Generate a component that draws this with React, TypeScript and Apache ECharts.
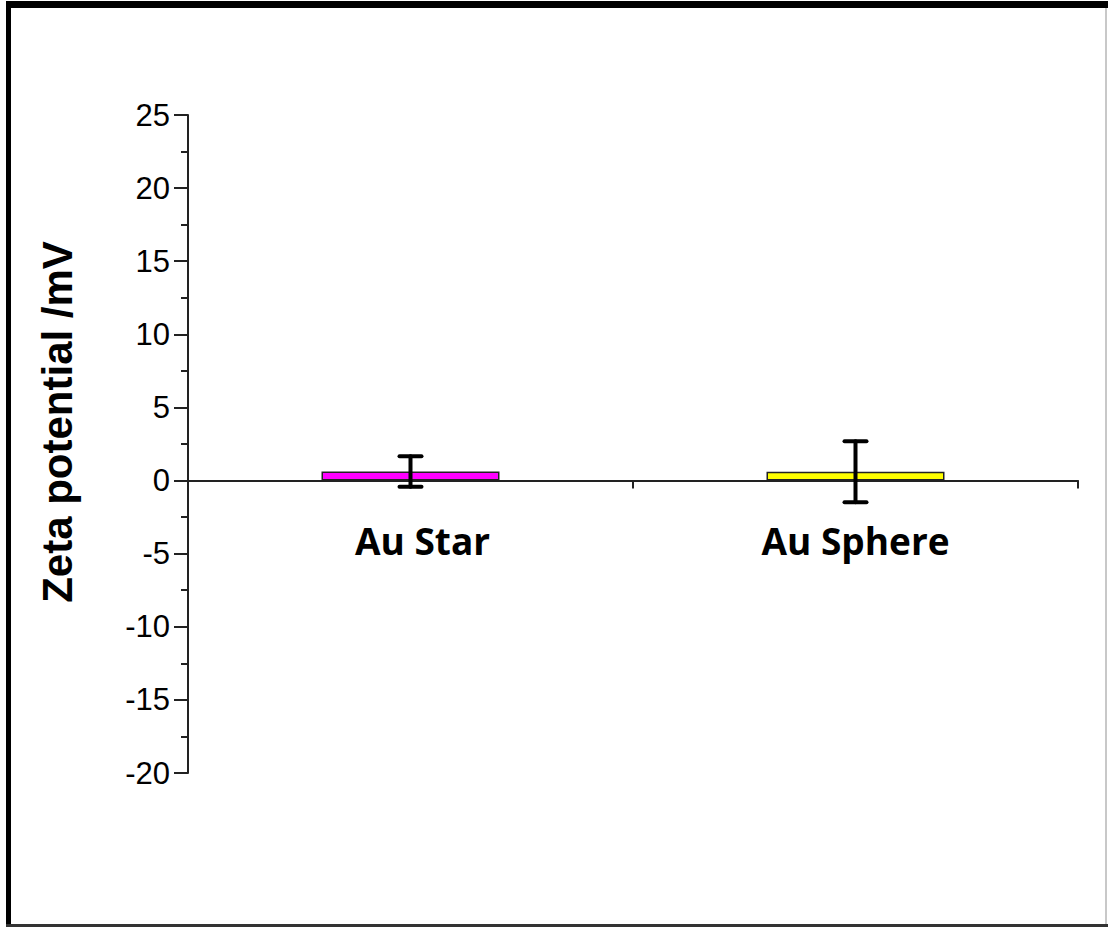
import React, { useEffect, useRef } from "react";
import * as echarts from "echarts";

const categories = ["Au Star", "Au Sphere"];
const zetaValues = [0.62, 0.6];
const errorLow = [-0.43, -1.48];
const errorHigh = [1.66, 2.68];
const barColors = ["#FF00FF", "#FFFF00"];
const yTitle = "Zeta potential /mV";

export default function App() {
  const ref = useRef<HTMLDivElement>(null);
  useEffect(() => {
    if (!ref.current) return;
    const chart = echarts.init(ref.current, null, { renderer: "svg" });
    const errorData = categories.map((_, i) => [i, errorLow[i], errorHigh[i]]);
    chart.setOption({
      animation: false,
      backgroundColor: "#ffffff",
      grid: { left: 188, right: 30, top: 115, bottom: 154 },
      xAxis: {
        type: "category",
        data: categories.map((c, i) =>
          i === 0
            ? { value: c, textStyle: { padding: [0, 0, 0, 24] } }
            : { value: c }
        ),
        axisLine: { onZero: true, lineStyle: { color: "#222", width: 2 } },
        axisTick: { show: true, length: 8, lineStyle: { color: "#222", width: 2 } },
        axisLabel: {
          margin: -251,
          color: "#000",
          fontFamily: "Open Sans",
          fontWeight: "bold",
          fontSize: 37,
        },
      },
      yAxis: {
        type: "value",
        min: -20,
        max: 25,
        interval: 5,
        splitLine: { show: false },
        axisLine: { show: true, onZero: false, lineStyle: { color: "#222", width: 2 } },
        axisTick: { show: true, length: 14, lineStyle: { color: "#222", width: 2 } },
        minorTick: { show: true, splitNumber: 2, length: 7, lineStyle: { color: "#222", width: 2 } },
        axisLabel: {
          margin: 18,
          color: "#000",
          fontFamily: "Liberation Sans, Arial, sans-serif",
          fontSize: 31,
        },
      },
      graphic: [
        { type: "rect", shape: { x: 6, y: 1, width: 5, height: 926 }, style: { fill: "#000" } },
        { type: "rect", shape: { x: 6, y: 1, width: 1102, height: 7 }, style: { fill: "#000" } },
        { type: "rect", shape: { x: 1105, y: 8, width: 2, height: 919 }, style: { fill: "#c8c8c8" } },
        { type: "rect", shape: { x: 6, y: 924, width: 1102, height: 3 }, style: { fill: "#333" } },
        {
          type: "text",
          x: 57,
          y: 422,
          rotation: Math.PI / 2,
          style: {
            text: yTitle,
            fill: "#000",
            font: "bold 42px 'Liberation Sans', Arial, sans-serif",
            align: "center",
            verticalAlign: "middle",
          },
        },
      ],
      series: [
        {
          type: "bar",
          barWidth: "40%",
          data: zetaValues.map((v, i) => ({
            value: v,
            itemStyle: { color: barColors[i], borderColor: "#222", borderWidth: 1.5 },
          })),
        },
        {
          type: "custom",
          data: errorData,
          z: 10,
          renderItem: (params: any, api: any) => {
            const x = api.value(0);
            const lo = api.coord([x, api.value(1)]);
            const hi = api.coord([x, api.value(2)]);
            const half = 11;
            const style = { stroke: "#000", lineWidth: 4, lineCap: "round" };
            return {
              type: "group",
              children: [
                { type: "line", shape: { x1: lo[0], y1: lo[1], x2: hi[0], y2: hi[1] }, style },
                { type: "line", shape: { x1: hi[0] - half, y1: hi[1], x2: hi[0] + half, y2: hi[1] }, style },
                { type: "line", shape: { x1: lo[0] - half, y1: lo[1], x2: lo[0] + half, y2: lo[1] }, style },
              ],
            };
          },
        },
      ],
    });
    return () => chart.dispose();
  }, []);
  return (
    <div
      ref={ref}
      style={{ position: "absolute", left: 0, top: 0, width: 1108, height: 927 }}
    />
  );
}
